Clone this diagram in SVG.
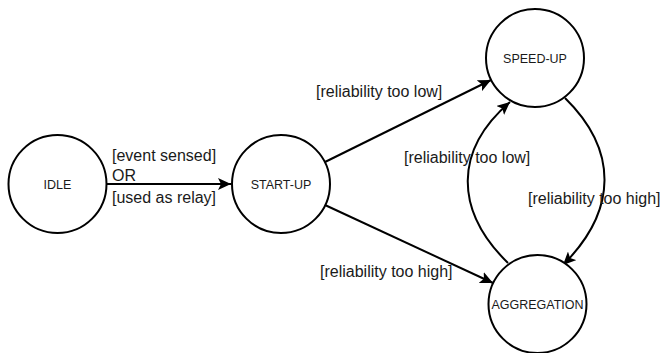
<svg xmlns="http://www.w3.org/2000/svg" width="664" height="353" viewBox="0 0 664 353">
<defs>
<style>
.node circle{fill:#fff;stroke:#000;stroke-width:2}
.node text{font-family:"Liberation Sans",Arial,sans-serif;font-size:12.5px;fill:#1a1a1a;text-anchor:middle}
.edge{fill:none;stroke:#000;stroke-width:2}
.lbl{font-family:"Liberation Sans",Arial,sans-serif;font-size:16px;fill:#1a1a1a}
</style>
<marker id="arr" markerUnits="userSpaceOnUse" markerWidth="14" markerHeight="12" viewBox="0 0 14 12" refX="13" refY="6" orient="auto">
<path d="M0,0 L13,6 L0,12 L3,6 Z" fill="#000"/>
</marker>
</defs>
<rect width="664" height="353" fill="#fff"/>
<g id="connectors">
<line class="edge" x1="107" y1="184" x2="231" y2="184" marker-end="url(#arr)"/>
<line class="edge" x1="325" y1="162" x2="491" y2="80" marker-end="url(#arr)"/>
<line class="edge" x1="325" y1="205" x2="493" y2="283" marker-end="url(#arr)"/>
<path class="edge" d="M508,263 C454,210 454,150 510,102" marker-end="url(#arr)"/>
<path class="edge" d="M565,98 C618,150 618,210 563,265" marker-end="url(#arr)"/>
</g>
<g id="labels">
<text class="lbl" x="112" y="161">[event sensed]</text>
<text class="lbl" x="112" y="181">OR</text>
<text class="lbl" x="112" y="203">[used as relay]</text>
<text class="lbl" x="316" y="97">[reliability too low]</text>
<text class="lbl" x="404" y="163">[reliability too low]</text>
<text class="lbl" x="528" y="204">[reliability too high]</text>
<text class="lbl" x="320" y="277">[reliability too high]</text>
</g>
<g id="idle" class="node"><circle cx="57.5" cy="184" r="49"/><text x="57.5" y="189">IDLE</text></g>
<g id="start-up" class="node"><circle cx="281" cy="184" r="49"/><text x="281" y="189">START-UP</text></g>
<g id="speed-up" class="node"><circle cx="535" cy="58" r="49"/><text x="535" y="63">SPEED-UP</text></g>
<g id="aggregation" class="node"><circle cx="537.5" cy="304" r="49"/><text x="537.5" y="309">AGGREGATION</text></g>
</svg>
